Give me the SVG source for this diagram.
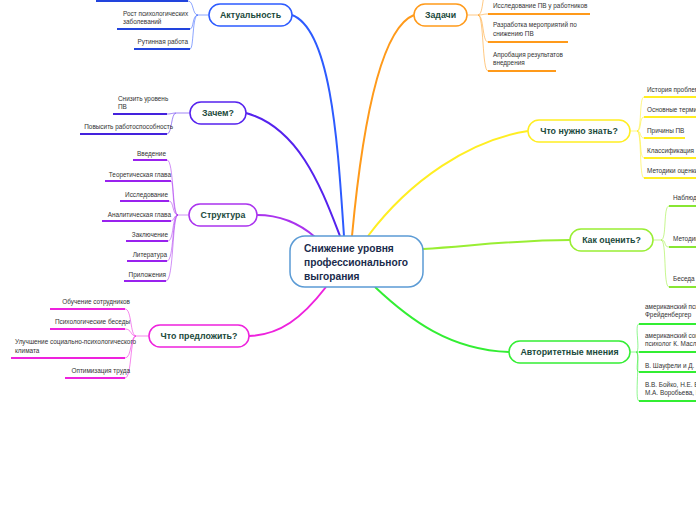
<svg xmlns="http://www.w3.org/2000/svg" width="696" height="520" viewBox="0 0 696 520">
<style>
.n{fill:#fff;stroke-width:1.5}
.nt{font-family:"Liberation Sans",Arial,sans-serif;font-weight:bold;font-size:8.8px;fill:#1b4a3c;text-anchor:middle}
.lt{font-family:"Liberation Sans",Arial,sans-serif;font-size:6.4px;fill:#333}
.r{text-anchor:end}
.u{stroke-width:2;fill:none}
.f{stroke-width:1;fill:none;opacity:0.55}
.m{stroke-width:2;fill:none}
</style>
<rect width="696" height="520" fill="#fff"/>
<g id="connectors">
<path class="m" stroke="#2d5bff" d="M344,236 C338,150 332,30 292,15"/>
<path class="m" stroke="#5522ee" d="M340,236 C322,190 300,128 246,113"/>
<path class="m" stroke="#aa33ee" d="M315,237 C300,224 280,215 257,215"/>
<path class="m" stroke="#ee22dd" d="M326,287 C302,318 280,335 249,336"/>
<path class="m" stroke="#ff9a1a" d="M352,236 C360,150 376,30 414,15"/>
<path class="m" stroke="#ffee22" d="M368,236 C410,180 470,140 528,131"/>
<path class="m" stroke="#99ee33" d="M423,249 C480,245 520,240 570,240"/>
<path class="m" stroke="#33ee33" d="M375,287 C410,320 450,350 509,352"/>
<!-- Актуальность fan -->
<path class="f" stroke="#2d5bff" d="M209,15 L198,15 C192,15 194,1 188,1 M198,15 C192,15 194,29 190,29 M198,15 C192,15 194,49 190,49"/>
<!-- Зачем fan -->
<path class="f" stroke="#5522ee" d="M190,113 L176,113 C172,113 172,114 167,114 M176,113 C171,113 172,134 167,134"/>
<!-- Структура fan -->
<path class="f" stroke="#aa33ee" d="M189,215 L178,215 C172,215 174,160 167,160 M178,215 C172,215 174,181 171,181 M178,215 C172,215 174,201 169,201 M178,215 C174,215 174,221 171,221 M178,215 C172,215 174,241 168,241 M178,215 C172,215 174,261 167,261 M178,215 C172,215 174,281 166,281"/>
<!-- Что предложить fan -->
<path class="f" stroke="#ee22dd" d="M149,336 L136,336 C130,336 132,309 125,309 M136,336 C130,336 132,329 125,329 M136,336 C130,336 132,358 125,358 M136,336 C130,336 132,378 125,378"/>
<!-- Задачи fan -->
<path class="f" stroke="#ff9a1a" d="M467,15 L478,15 C484,15 482,-12 488,-12 M478,15 C484,15 482,14 488,14 M478,15 C484,15 482,42 488,42 M478,15 C484,15 482,71 488,71"/>
<!-- Что нужно знать fan -->
<path class="f" stroke="#ffee22" d="M630,131 L637,131 C642,131 639,97 644,97 M637,131 C642,131 639,117 644,117 M637,131 C642,131 639,138 644,138 M637,131 C642,131 639,158 644,158 M637,131 C642,131 639,178 644,178"/>
<!-- Как оценить fan -->
<path class="f" stroke="#99ee33" d="M653,240 L661,240 C667,240 663,206 669,206 M661,240 C667,240 663,247 669,247 M661,240 C667,240 663,287 669,287"/>
<!-- Авторитетные fan -->
<path class="f" stroke="#33ee33" d="M630,352 L636,352 C641,352 634,324 639,324 M636,352 C641,352 634,352 639,352 M636,352 C641,352 634,372 639,372 M636,352 C641,352 634,401 639,401"/>
</g>
<g id="center">
<rect x="290" y="236" width="133" height="51" rx="15" fill="#fff" stroke="#5b9bd5" stroke-width="1.5"/>
<text font-family="'Liberation Sans',Arial,sans-serif" font-weight="bold" font-size="10.2" fill="#1a2b4c"><tspan x="304" y="252">Снижение уровня</tspan><tspan x="304" y="266">профессионального</tspan><tspan x="304" y="280">выгорания</tspan></text>
</g>
<g id="aktualnost">
<rect class="n" stroke="#2d5bff" x="209" y="4" width="83" height="22" rx="11"/>
<text class="nt" x="250.5" y="18">Актуальность</text>
</g>
<g id="akt-leaf0"><line class="u" stroke="#2244dd" x1="96" y1="1" x2="188" y2="1"/></g>
<g id="akt-leaf1"><text class="lt"><tspan x="123" y="16">Рост психологических</tspan><tspan x="123" y="24">заболеваний</tspan></text><line class="u" stroke="#2244dd" x1="117" y1="29" x2="190" y2="29"/></g>
<g id="akt-leaf2"><text class="lt r" x="188" y="44">Рутинная работа</text><line class="u" stroke="#2244dd" x1="134" y1="49" x2="190" y2="49"/></g>

<g id="zachem">
<rect class="n" stroke="#5522ee" x="190" y="102" width="56" height="22" rx="11"/>
<text class="nt" x="218" y="116">Зачем?</text>
</g>
<g id="z-leaf1"><text class="lt"><tspan x="118" y="101">Снизить уровень</tspan><tspan x="118" y="109">ПВ</tspan></text><line class="u" stroke="#4422dd" x1="113" y1="114" x2="167" y2="114"/></g>
<g id="z-leaf2"><text class="lt r" x="173" y="129">Повысить работоспособность</text><line class="u" stroke="#4422dd" x1="80" y1="134" x2="167" y2="134"/></g>

<g id="struktura">
<rect class="n" stroke="#aa33ee" x="189" y="204" width="68" height="22" rx="11"/>
<text class="nt" x="223" y="218">Структура</text>
</g>
<g id="s1"><text class="lt r" x="166" y="156">Введение</text><line class="u" stroke="#9922ee" x1="133" y1="160" x2="167" y2="160"/></g>
<g id="s2"><text class="lt r" x="171" y="177">Теоретическая глава</text><line class="u" stroke="#9922ee" x1="105" y1="181" x2="171" y2="181"/></g>
<g id="s3"><text class="lt r" x="168" y="197">Исследование</text><line class="u" stroke="#9922ee" x1="120" y1="201" x2="169" y2="201"/></g>
<g id="s4"><text class="lt r" x="171" y="217">Аналитическая глава</text><line class="u" stroke="#9922ee" x1="102" y1="221" x2="171" y2="221"/></g>
<g id="s5"><text class="lt r" x="168" y="237">Заключение</text><line class="u" stroke="#9922ee" x1="126" y1="241" x2="168" y2="241"/></g>
<g id="s6"><text class="lt r" x="167" y="257">Литература</text><line class="u" stroke="#9922ee" x1="127" y1="261" x2="167" y2="261"/></g>
<g id="s7"><text class="lt r" x="166" y="277">Приложения</text><line class="u" stroke="#9922ee" x1="124" y1="281" x2="166" y2="281"/></g>

<g id="predlozhit">
<rect class="n" stroke="#ee22dd" x="149" y="325" width="100" height="22" rx="11"/>
<text class="nt" x="199" y="339">Что предложить?</text>
</g>
<g id="p1"><text class="lt r" x="130" y="304">Обучение сотрудников</text><line class="u" stroke="#ee22dd" x1="50" y1="309" x2="125" y2="309"/></g>
<g id="p2"><text class="lt r" x="130" y="324">Психологические беседы</text><line class="u" stroke="#ee22dd" x1="50" y1="329" x2="125" y2="329"/></g>
<g id="p3"><text class="lt"><tspan x="15" y="344">Улучшение социально-психологического</tspan><tspan x="15" y="353">климата</tspan></text><line class="u" stroke="#ee22dd" x1="11" y1="358" x2="125" y2="358"/></g>
<g id="p4"><text class="lt r" x="130" y="373">Оптимизация труда</text><line class="u" stroke="#ee22dd" x1="65" y1="378" x2="125" y2="378"/></g>

<g id="zadachi">
<rect class="n" stroke="#ff9a1a" x="414" y="4" width="53" height="22" rx="11"/>
<text class="nt" x="440.5" y="18">Задачи</text>
</g>
<g id="zd0"><line class="u" stroke="#ff9a1a" x1="488" y1="-12" x2="580" y2="-12"/></g>
<g id="zd1"><text class="lt" x="493" y="8">Исследование ПВ у работников</text><line class="u" stroke="#ff9a1a" x1="488" y1="14" x2="590" y2="14"/></g>
<g id="zd2"><text class="lt"><tspan x="493" y="27">Разработка мероприятий по</tspan><tspan x="493" y="36">снижению ПВ</tspan></text><line class="u" stroke="#ff9a1a" x1="488" y1="42" x2="568" y2="42"/></g>
<g id="zd3"><text class="lt"><tspan x="493" y="57">Апробация результатов</tspan><tspan x="493" y="65">внедрения</tspan></text><line class="u" stroke="#ff9a1a" x1="488" y1="71" x2="556" y2="71"/></g>

<g id="znat">
<rect class="n" stroke="#ffee22" x="528" y="120" width="102" height="22" rx="11"/>
<text class="nt" x="579" y="134">Что нужно знать?</text>
</g>
<g id="zn1"><text class="lt" x="647" y="92">История проблемы</text><line class="u" stroke="#ffee22" x1="644" y1="97" x2="700" y2="97"/></g>
<g id="zn2"><text class="lt" x="647" y="112">Основные термины</text><line class="u" stroke="#ffee22" x1="644" y1="117" x2="700" y2="117"/></g>
<g id="zn3"><text class="lt" x="647" y="133">Причины ПВ</text><line class="u" stroke="#ffee22" x1="644" y1="138" x2="685" y2="138"/></g>
<g id="zn4"><text class="lt" x="647" y="153">Классификация</text><line class="u" stroke="#ffee22" x1="644" y1="158" x2="700" y2="158"/></g>
<g id="zn5"><text class="lt" x="647" y="173">Методики оценки</text><line class="u" stroke="#ffee22" x1="644" y1="178" x2="700" y2="178"/></g>

<g id="otsenit">
<rect class="n" stroke="#99ee33" x="570" y="229" width="83" height="22" rx="11"/>
<text class="nt" x="611.5" y="243">Как оценить?</text>
</g>
<g id="o1"><text class="lt" x="673" y="200">Наблюдение</text><line class="u" stroke="#88e633" x1="669" y1="206" x2="700" y2="206"/></g>
<g id="o2"><text class="lt" x="673" y="241">Методики</text><line class="u" stroke="#88e633" x1="669" y1="247" x2="700" y2="247"/></g>
<g id="o3"><text class="lt" x="673" y="281">Беседа</text><line class="u" stroke="#88e633" x1="669" y1="287" x2="700" y2="287"/></g>

<g id="mnenia">
<rect class="n" stroke="#33ee33" x="509" y="341" width="121" height="22" rx="11"/>
<text class="nt" x="569.5" y="355">Авторитетные мнения</text>
</g>
<g id="a1"><text class="lt"><tspan x="645" y="309">американский психолог Х.</tspan><tspan x="645" y="317">Фрейденбергер</tspan></text><line class="u" stroke="#33ee33" x1="639" y1="324" x2="700" y2="324"/></g>
<g id="a2"><text class="lt"><tspan x="645" y="338">американский социальный</tspan><tspan x="645" y="346">психолог К. Маслач</tspan></text><line class="u" stroke="#33ee33" x1="639" y1="352" x2="700" y2="352"/></g>
<g id="a3"><text class="lt" x="645" y="368">В. Шауфели и Д. Энзманн</text><line class="u" stroke="#33ee33" x1="639" y1="372" x2="700" y2="372"/></g>
<g id="a4"><text class="lt"><tspan x="645" y="387">В.В. Бойко, Н.Е. Водопьянова,</tspan><tspan x="645" y="395">М.А. Воробьева, Н.В. Гришина</tspan></text><line class="u" stroke="#33ee33" x1="639" y1="401" x2="700" y2="401"/></g>
</svg>
